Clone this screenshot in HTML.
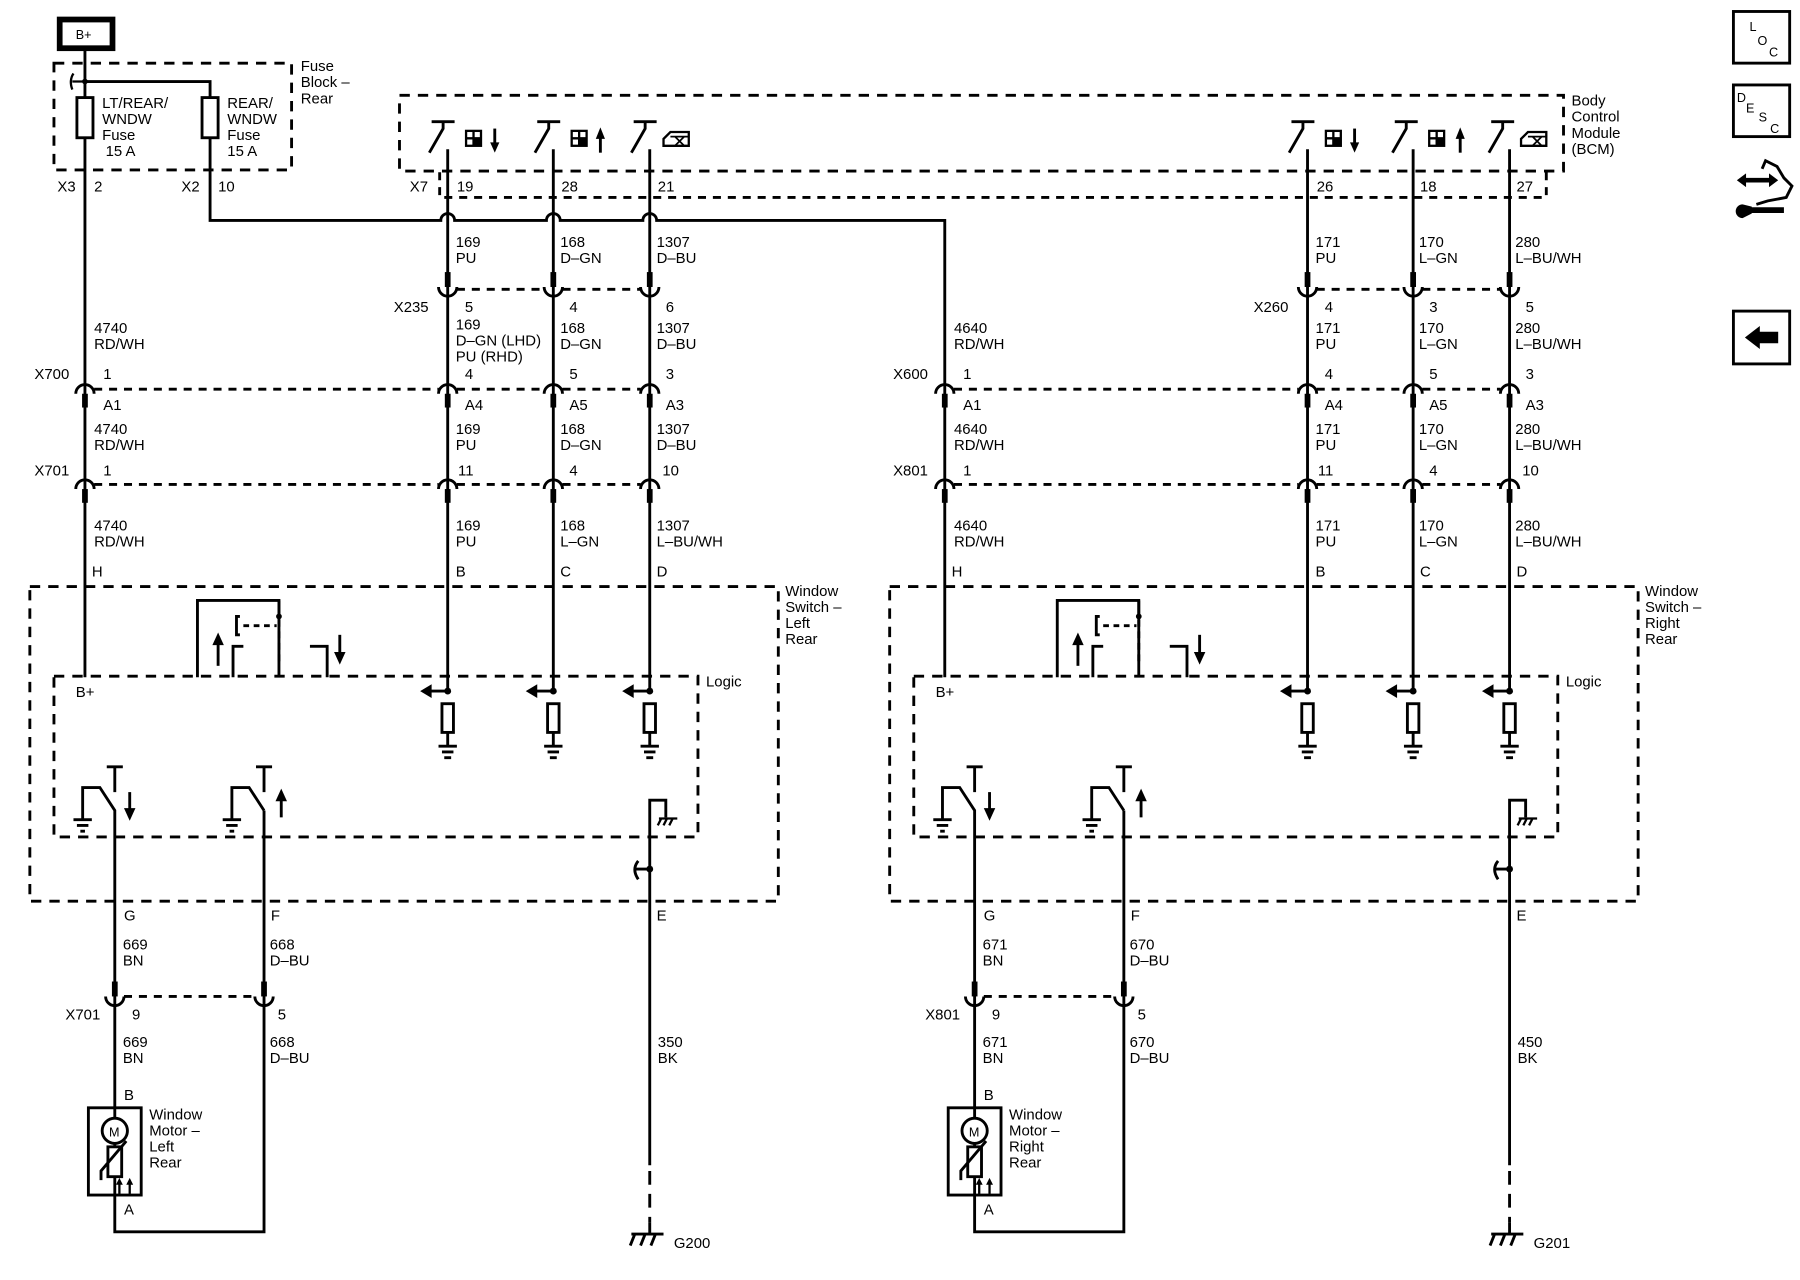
<!DOCTYPE html>
<html><head><meta charset="utf-8"><style>
html,body{margin:0;padding:0;background:#fff}
svg{display:block}
text{font-family:"Liberation Sans",sans-serif;font-size:13px;fill:#000}
</style></head><body>
<svg width="1800" height="1280" viewBox="0 0 1568 1115" preserveAspectRatio="none" xmlns="http://www.w3.org/2000/svg">
<defs>
<g id="ucon"><rect x="-2.5" y="-13" width="5" height="13" fill="#000"/><path d="M-8 0 A8 8 0 0 0 8 0" fill="none" stroke="#000" stroke-width="2.5"/></g>
<g id="ncon"><path d="M-8 8 A8 8 0 0 1 8 8" fill="none" stroke="#000" stroke-width="2.5"/><rect x="-2.5" y="8" width="5" height="12" fill="#000"/></g>
<g id="bsw"><path d="M-14 106 H6 M-4 106 V112 L-16 133" fill="none" stroke="#000" stroke-width="2.5"/></g>
<g id="pd"><circle cx="0" cy="602" r="3"/><path d="M0 602 H-16" stroke="#000" stroke-width="2.5"/><path d="M-24 602 L-14 596 V608 Z"/><rect x="-5" y="613" width="10" height="25" fill="#fff" stroke="#000" stroke-width="2.5"/><path d="M0 638 V650 M-8 650 H8 M-5 655 H5 M-3 660 H3" stroke="#000" stroke-width="2.5"/></g>
<g id="half" fill="#000">
 <!-- window switch boxes -->
 <rect x="26" y="511" width="652" height="274" fill="none" stroke="#000" stroke-width="2.5" stroke-dasharray="9 7"/>
 <rect x="47" y="589" width="561" height="140" fill="none" stroke="#000" stroke-width="2.5" stroke-dasharray="9 7"/>
 <text x="684" y="519">Window</text><text x="684" y="533">Switch –</text>
 <text x="615" y="598">Logic</text>
 <text x="66" y="607">B+</text>
 <text x="80" y="502">H</text><text x="397" y="502">B</text><text x="488" y="502">C</text><text x="572" y="502">D</text>
 <!-- relay element -->
 <path d="M172 590 V523 H243 V590" fill="none" stroke="#000" stroke-width="2.5" stroke-dasharray="200 0"/>
 <path d="M243 523 V536" stroke="#000" stroke-width="2.5"/>
 <circle cx="243" cy="537" r="2.5"/>
 <path d="M243 540 V578" stroke="#000" stroke-width="2.5" stroke-dasharray="6 4"/>
 <path d="M209 537 H206 V553 H209" fill="none" stroke="#000" stroke-width="2.5"/>
 <path d="M212 545 H241" stroke="#000" stroke-width="2.5" stroke-dasharray="5 4"/>
 <path d="M190 580 V560" stroke="#000" stroke-width="2.5"/><path d="M185 562 L190 551 L195 562 Z"/>
 <path d="M203 590 V563 H212" fill="none" stroke="#000" stroke-width="2.5"/>
 <path d="M270 563 H285 V590" fill="none" stroke="#000" stroke-width="2.5"/>
 <path d="M296 553 V570" stroke="#000" stroke-width="2.5"/><path d="M291 568 L296 579 L301 568 Z"/>
 <!-- lower switches -->
 <path d="M93 668 H107 M100 668 V690" stroke="#000" stroke-width="2.5"/>
 <path d="M72 714 V686 H87 L100 706 V1073 H230 V706" fill="none" stroke="#000" stroke-width="2.5"/>
 <path d="M64 714 H80 M67 719 H77 M70 724 H74" stroke="#000" stroke-width="2.5"/>
 <path d="M113 690 V706" stroke="#000" stroke-width="2.5"/><path d="M108 704 L113 715 L118 704 Z"/>
 <path d="M223 668 H237 M230 668 V690" stroke="#000" stroke-width="2.5"/>
 <path d="M202 714 V686 H217 L230 706" fill="none" stroke="#000" stroke-width="2.5"/>
 <path d="M194 714 H210 M197 719 H207 M200 724 H204" stroke="#000" stroke-width="2.5"/>
 <path d="M245 712 V696" stroke="#000" stroke-width="2.5"/><path d="M240 698 L245 687 L250 698 Z"/>
 <!-- ground E -->
 <path d="M566 1015 V697 H580 V712" fill="none" stroke="#000" stroke-width="2.5"/>
 <path d="M574 713 H590 M576 713 L573 719 M581 713 L578 719 M586 713 L583 719" stroke="#000" stroke-width="2"/>
 <circle cx="566" cy="757" r="3"/><path d="M566 757 H554 M556 750 Q550 757 556 766" fill="none" stroke="#000" stroke-width="2.5"/>
 <path d="M566 1020 V1065" stroke="#000" stroke-width="2.5" stroke-dasharray="12 8"/>
 <path d="M550 1075 H578 M553 1075 L549 1085 M562 1075 L558 1085 M571 1075 L567 1085 M566 1065 V1075" stroke="#000" stroke-width="2.5"/>
 <text x="108" y="802">G</text><text x="236" y="802">F</text><text x="572" y="802">E</text>
 <!-- X701 lower connector -->
 <use href="#ucon" x="100" y="868"/><use href="#ucon" x="230" y="868"/>
 <path d="M108 868 H222" stroke="#000" stroke-width="2.5" stroke-dasharray="7 6"/>
 <text x="115" y="888">9</text><text x="242" y="888">5</text>
 <text x="108" y="958">B</text><text x="108" y="1058">A</text>
 <!-- motor -->
 <rect x="77" y="965" width="46" height="76" fill="none" stroke="#000" stroke-width="2.5"/>
 <circle cx="100" cy="985" r="11" fill="#fff" stroke="#000" stroke-width="2.5"/>
 <text x="95" y="990" style="font-size:11px">M</text>
 <rect x="94" y="999" width="12" height="26" fill="#fff" stroke="#000" stroke-width="2.5"/>
 <path d="M88 1028 V1020 L110 994" fill="none" stroke="#000" stroke-width="2.5"/>
 <path d="M104 1040 V1030 M113 1040 V1030" stroke="#000" stroke-width="2"/>
 <path d="M101 1032 L104 1026 L107 1032 Z M110 1032 L113 1026 L116 1032 Z"/>
 <text x="130" y="975">Window</text><text x="130" y="989">Motor –</text>
 <!-- column wires inside switch -->
 <path d="M390 480 V602 M482 480 V602 M566 480 V602" stroke="#000" stroke-width="2.5"/>
 <use href="#pd" x="390"/><use href="#pd" x="482"/><use href="#pd" x="566"/>
 <!-- X700/X701 connectors -->
 <use href="#ncon" x="74" y="335"/><use href="#ncon" x="390" y="335"/><use href="#ncon" x="482" y="335"/><use href="#ncon" x="566" y="335"/>
 <use href="#ncon" x="74" y="418"/><use href="#ncon" x="390" y="418"/><use href="#ncon" x="482" y="418"/><use href="#ncon" x="566" y="418"/>
 <path d="M82 339 H382 M398 339 H474 M490 339 H558" stroke="#000" stroke-width="2.5" stroke-dasharray="7 6"/>
 <path d="M82 422 H382 M398 422 H474 M490 422 H558" stroke="#000" stroke-width="2.5" stroke-dasharray="7 6"/>
 <text x="90" y="330">1</text><text x="405" y="330">4</text><text x="496" y="330">5</text><text x="580" y="330">3</text>
 <text x="90" y="357">A1</text><text x="405" y="357">A4</text><text x="496" y="357">A5</text><text x="580" y="357">A3</text>
 <text x="90" y="414">1</text><text x="399" y="414">11</text><text x="496" y="414">4</text><text x="577" y="414">10</text>
 <!-- X235/X260 -->
 <use href="#ucon" x="390" y="250"/><use href="#ucon" x="482" y="250"/><use href="#ucon" x="566" y="250"/>
 <path d="M398 252 H474 M490 252 H558" stroke="#000" stroke-width="2.5" stroke-dasharray="7 6"/>
 <path d="M390 130 V480 M482 130 V480 M566 130 V480" stroke="#000" stroke-width="2.5"/>
</g>
</defs>

<use href="#half"/>
<use href="#half" x="749"/>

<!-- side-specific labels -->
<g>
 <text x="684" y="547">Left</text><text x="684" y="561">Rear</text>
 <text x="1433" y="547">Right</text><text x="1433" y="561">Rear</text>
 <text x="130" y="1003">Left</text><text x="130" y="1017">Rear</text>
 <text x="879" y="1003">Right</text><text x="879" y="1017">Rear</text>
 <text x="30" y="330">X700</text><text x="30" y="414">X701</text>
 <text x="778" y="330">X600</text><text x="778" y="414">X801</text>
 <text x="57" y="888">X701</text><text x="806" y="888">X801</text>
 <text x="343" y="272">X235</text><text x="1092" y="272">X260</text>
 <text x="405" y="272">5</text><text x="496" y="272">4</text><text x="580" y="272">6</text>
 <text x="1154" y="272">4</text><text x="1245" y="272">3</text><text x="1329" y="272">5</text>
 <text x="573" y="912">350</text><text x="573" y="926">BK</text>
 <text x="1322" y="912">450</text><text x="1322" y="926">BK</text>
 <text x="587" y="1087">G200</text><text x="1336" y="1087">G201</text>
</g>

<!-- wire labels left -->
<g>
 <text x="397" y="215">169</text><text x="397" y="229">PU</text>
 <text x="488" y="215">168</text><text x="488" y="229">D–GN</text>
 <text x="572" y="215">1307</text><text x="572" y="229">D–BU</text>
 <text x="1146" y="215">171</text><text x="1146" y="229">PU</text>
 <text x="1236" y="215">170</text><text x="1236" y="229">L–GN</text>
 <text x="1320" y="215">280</text><text x="1320" y="229">L–BU/WH</text>

 <text x="82" y="290">4740</text><text x="82" y="304">RD/WH</text>
 <text x="397" y="287">169</text><text x="397" y="301">D–GN (LHD)</text><text x="397" y="315">PU (RHD)</text>
 <text x="488" y="290">168</text><text x="488" y="304">D–GN</text>
 <text x="572" y="290">1307</text><text x="572" y="304">D–BU</text>
 <text x="831" y="290">4640</text><text x="831" y="304">RD/WH</text>
 <text x="1146" y="290">171</text><text x="1146" y="304">PU</text>
 <text x="1236" y="290">170</text><text x="1236" y="304">L–GN</text>
 <text x="1320" y="290">280</text><text x="1320" y="304">L–BU/WH</text>

 <text x="82" y="378">4740</text><text x="82" y="392">RD/WH</text>
 <text x="397" y="378">169</text><text x="397" y="392">PU</text>
 <text x="488" y="378">168</text><text x="488" y="392">D–GN</text>
 <text x="572" y="378">1307</text><text x="572" y="392">D–BU</text>
 <text x="831" y="378">4640</text><text x="831" y="392">RD/WH</text>
 <text x="1146" y="378">171</text><text x="1146" y="392">PU</text>
 <text x="1236" y="378">170</text><text x="1236" y="392">L–GN</text>
 <text x="1320" y="378">280</text><text x="1320" y="392">L–BU/WH</text>

 <text x="82" y="462">4740</text><text x="82" y="476">RD/WH</text>
 <text x="397" y="462">169</text><text x="397" y="476">PU</text>
 <text x="488" y="462">168</text><text x="488" y="476">L–GN</text>
 <text x="572" y="462">1307</text><text x="572" y="476">L–BU/WH</text>
 <text x="831" y="462">4640</text><text x="831" y="476">RD/WH</text>
 <text x="1146" y="462">171</text><text x="1146" y="476">PU</text>
 <text x="1236" y="462">170</text><text x="1236" y="476">L–GN</text>
 <text x="1320" y="462">280</text><text x="1320" y="476">L–BU/WH</text>

 <text x="107" y="827">669</text><text x="107" y="841">BN</text>
 <text x="235" y="827">668</text><text x="235" y="841">D–BU</text>
 <text x="107" y="912">669</text><text x="107" y="926">BN</text>
 <text x="235" y="912">668</text><text x="235" y="926">D–BU</text>
 <text x="856" y="827">671</text><text x="856" y="841">BN</text>
 <text x="984" y="827">670</text><text x="984" y="841">D–BU</text>
 <text x="856" y="912">671</text><text x="856" y="926">BN</text>
 <text x="984" y="912">670</text><text x="984" y="926">D–BU</text>
</g>

<!-- top section -->
<g fill="#000">
 <rect x="52" y="17" width="46" height="25" fill="#fff" stroke="#000" stroke-width="5"/>
 <text x="66" y="34" style="font-size:11px">B+</text>
 <rect x="47" y="55" width="207" height="93" fill="none" stroke="#000" stroke-width="2.5" stroke-dasharray="9 7"/>
 <text x="262" y="62">Fuse</text><text x="262" y="76">Block –</text><text x="262" y="90">Rear</text>
 <path d="M74 42 V590 M74 71 H183 V192 H384 A6 6 0 0 1 396 192 H476 A6 6 0 0 1 488 192 H560 A6 6 0 0 1 572 192 H823 V590" fill="none" stroke="#000" stroke-width="2.5"/>
 <circle cx="74" cy="71" r="2.5"/>
 <path d="M64 64 Q60 70 63 78 M63 71 H74" fill="none" stroke="#000" stroke-width="2"/>
 <rect x="67" y="85" width="14" height="35" fill="#fff" stroke="#000" stroke-width="2.5"/>
 <rect x="176" y="85" width="14" height="35" fill="#fff" stroke="#000" stroke-width="2.5"/>
 <text x="89" y="94">LT/REAR/</text><text x="89" y="108">WNDW</text><text x="89" y="122">Fuse</text><text x="92" y="136">15 A</text>
 <text x="198" y="94">REAR/</text><text x="198" y="108">WNDW</text><text x="198" y="122">Fuse</text><text x="198" y="136">15 A</text>
 <text x="50" y="167">X3</text><text x="82" y="167">2</text><text x="158" y="167">X2</text><text x="190" y="167">10</text>

 <!-- BCM -->
 <rect x="348" y="83" width="1014" height="66" fill="none" stroke="#000" stroke-width="2.5" stroke-dasharray="9 7"/>
 <path d="M383 150 V172 H1347 V150" fill="none" stroke="#000" stroke-width="2.5" stroke-dasharray="7 6"/>
 <text x="1369" y="92">Body</text><text x="1369" y="106">Control</text><text x="1369" y="120">Module</text><text x="1369" y="134">(BCM)</text>
 <text x="357" y="167">X7</text>
 <text x="398" y="167">19</text><text x="489" y="167">28</text><text x="573" y="167">21</text>
 <text x="1147" y="167">26</text><text x="1237" y="167">18</text><text x="1321" y="167">27</text>
 <use href="#bsw" x="390"/><use href="#bsw" x="482"/><use href="#bsw" x="566"/>
 <use href="#bsw" x="1139"/><use href="#bsw" x="1229"/><use href="#bsw" x="1313"/>
 <!-- icons: window down/up -->
 <g id="wd">
  <rect x="406" y="114" width="13" height="13" fill="#fff" stroke="#000" stroke-width="2"/>
  <path d="M412.5 114 V127 M406 120.5 H419" stroke="#000" stroke-width="2"/>
  <rect x="412.5" y="120.5" width="6.5" height="6.5"/>
 </g>
 <path d="M431 112 V126" stroke="#000" stroke-width="2.5"/><path d="M427 124 L431 133 L435 124 Z"/>
 <use href="#wd" x="92"/>
 <path d="M523 133 V119" stroke="#000" stroke-width="2.5"/><path d="M519 121 L523 111 L527 121 Z"/>
 <g id="wx">
  <path d="M578 127 V121 L584 115 H600 V127 Z" fill="#fff" stroke="#000" stroke-width="2"/>
  <path d="M584 119 H600 M588 119 L596 127 M596 119 L588 127" stroke="#000" stroke-width="1.5"/>
 </g>
 <use href="#wd" x="749"/>
 <path d="M1180 112 V126" stroke="#000" stroke-width="2.5"/><path d="M1176 124 L1180 133 L1184 124 Z"/>
 <use href="#wd" x="839"/>
 <path d="M1272 133 V119" stroke="#000" stroke-width="2.5"/><path d="M1268 121 L1272 111 L1276 121 Z"/>
 <use href="#wx" x="747"/>

 <!-- right side nav icons -->
 <rect x="1510" y="10" width="49" height="45" fill="none" stroke="#000" stroke-width="2.5"/>
 <text x="1524" y="27" style="font-size:11px">L</text><text x="1531" y="39" style="font-size:11px">O</text><text x="1541" y="49" style="font-size:11px">C</text>
 <rect x="1510" y="74" width="49" height="45" fill="none" stroke="#000" stroke-width="2.5"/>
 <text x="1513" y="89" style="font-size:11px">D</text><text x="1521" y="98" style="font-size:11px">E</text><text x="1532" y="106" style="font-size:11px">S</text><text x="1542" y="116" style="font-size:11px">C</text>
 <path d="M1518 157 H1544" stroke="#000" stroke-width="4"/>
 <path d="M1513 157 L1521 151 V163 Z M1549 157 L1541 151 V163 Z"/>
 <path d="M1535 147 L1538 140 L1548 145 L1554 155 L1561 162 L1556 172 L1540 175 L1530 178" fill="none" stroke="#000" stroke-width="2.5"/>
 <path d="M1525 183 H1554" stroke="#000" stroke-width="5"/>
 <path d="M1518 178 A6 6 0 0 0 1518 190 L1526 186 V180 Z"/>
 <rect x="1510" y="271" width="49" height="46" fill="none" stroke="#000" stroke-width="2.5"/>
 <path d="M1520 294 L1533 284 V289 H1549 V299 H1533 V304 Z"/>
</g>
</svg>
</body></html>
